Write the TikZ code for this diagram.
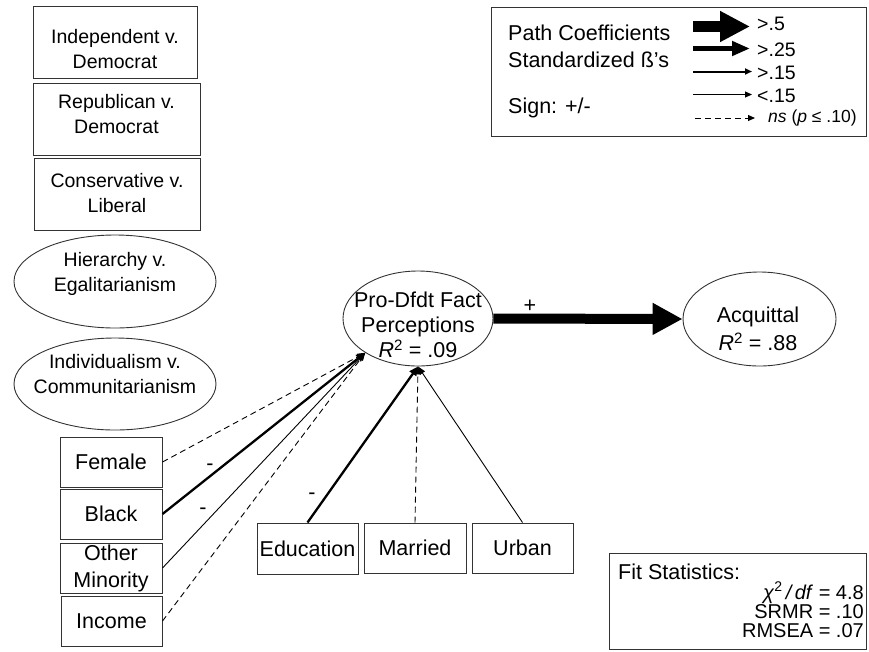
\documentclass[tikz,border=0pt]{standalone}
\usepackage{fontspec}
\setmainfont{Liberation Sans}
\usetikzlibrary{shapes.geometric,arrows.meta}
\begin{document}
\begin{tikzpicture}[x=1pt,y=-1pt,
  frame/.style={draw=black!80, line width=1pt, rectangle, inner sep=0pt},
  oval/.style={draw=black!80, line width=0.9pt, ellipse, inner sep=0pt},
  bigtxt/.style={inner sep=0pt, align=center, font=\fontsize{21.5}{26}\selectfont},
  smalltxt/.style={inner sep=0pt, align=center, font=\fontsize{19.5}{25}\selectfont},
  valtxt/.style={inner sep=0pt, font=\fontsize{19.5}{21}\selectfont},
  fittxt/.style={inner sep=0pt, anchor=east, text height=14pt, text depth=1pt, font=\fontsize{20}{22}\selectfont},
  thinarr/.style={line width=0.9pt, -{Triangle[length=8pt,width=6pt]}},
  thickarr/.style={line width=2.3pt, -{Triangle[length=9pt,width=8pt]}},
  dasharr/.style={line width=0.9pt, dash pattern=on 6pt off 4pt, -{Triangle[length=8pt,width=6pt]}},
]
\useasboundingbox (0,0) rectangle (869,651);

% ---- top-left boxes
\node[frame, minimum width=164pt, minimum height=72pt] (ind) at (115,42) {};
\node[smalltxt] (indt) at (115,49) {Independent v.\\Democrat};
\node[frame, minimum width=167pt, minimum height=72pt] (rep) at (116.5,119) {};
\node[smalltxt] (rept) at (116.5,114) {Republican v.\\Democrat};
\node[frame, minimum width=166pt, minimum height=72pt] (con) at (117,194) {};
\node[smalltxt] (cont) at (117,193) {Conservative v.\\Liberal};
\node[oval, minimum width=202pt, minimum height=93pt] (hier) at (115,281.5) {};
\node[smalltxt] (hiert) at (115,274) {Hierarchy v.\\Egalitarianism};
\node[oval, minimum width=202pt, minimum height=92pt] (indiv) at (115,384) {};
\node[smalltxt] (indivt) at (115,374) {Individualism v.\\Communitarianism};

% ---- demographic boxes
\node[frame, bigtxt, minimum width=102pt, minimum height=50pt] (fem) at (111,462) {Female};
\node[frame, bigtxt, minimum width=102pt, minimum height=50pt] (blk) at (111,514) {Black};
\node[frame, bigtxt, minimum width=102pt, minimum height=50pt, font=\fontsize{21.5}{27}\selectfont] (om) at (111,568) {Other\\Minority};
\node[frame, bigtxt, minimum width=101pt, minimum height=50pt] (inc) at (111.5,621) {Income};
\node[frame, bigtxt, minimum width=101pt, minimum height=51pt] (edu) at (307.5,548.5) {Education};
\node[frame, bigtxt, minimum width=102pt, minimum height=50pt] (mar) at (415,548) {Married};
\node[frame, bigtxt, minimum width=101pt, minimum height=50pt] (urb) at (522.5,548) {Urban};

% ---- central constructs
\node[oval, minimum width=150pt, minimum height=95pt] (pro) at (418,318.5) {};
\node[bigtxt, font=\fontsize{21.5}{25}\selectfont] (prot) at (418,325) {Pro-Dfdt Fact\\Perceptions\\\textit{R}\textsuperscript{2} = .09};
\node[oval, minimum width=153pt, minimum height=94pt] (acq) at (759.5,319) {};
\node[bigtxt, font=\fontsize{21.5}{28}\selectfont] (acqt) at (758,329) {Acquittal\\\textit{R}\textsuperscript{2} = .88};

% ---- paths
\draw[dasharr] (fem.east) -- (pro.213);
\draw[thickarr] (blk.east) -- (pro.213);
\draw[thinarr] (om.east) -- (pro.213);
\draw[dasharr] (inc.east) -- (pro.213);
\draw[thickarr] (edu.north) -- (pro.south);
\draw[dasharr] (mar.north) -- (pro.south);
\draw[thinarr] (urb.north) -- (pro.south);
\draw[line width=10pt, -{Triangle[length=30pt,width=30pt]}] (pro.east) -- (acq.west);

% ---- sign labels
\node[bigtxt] (plus) at (530,306) {+};
\node[bigtxt] (mblk) at (210,467) {-};
\node[bigtxt] (mom) at (203,511) {-};
\node[bigtxt] (medu) at (312,496) {-};

% ---- legend
\node[frame, minimum width=375pt, minimum height=129pt] (legend) at (678.5,71.5) {};
\node[bigtxt, anchor=west] (lg1) at (508,33) {Path Coefficients};
\node[bigtxt, anchor=west] (lg2) at (508,60) {Standardized ß’s};
\node[bigtxt, anchor=west] (lg3) at (508,108) {Sign: +/-};
\coordinate (a1s) at (693,26.5); \coordinate (a1e) at (750,26.5);
\coordinate (a2s) at (693,48.5); \coordinate (a2e) at (750,48.5);
\coordinate (a3s) at (693,71.5); \coordinate (a3e) at (752,71.5);
\coordinate (a4s) at (693,94.5); \coordinate (a4e) at (752,94.5);
\coordinate (a5s) at (695,118); \coordinate (a5e) at (755,118);
\draw[line width=11pt, -{Triangle[length=30pt,width=29pt]}] (a1s) -- (a1e);
\draw[line width=5pt, -{Triangle[length=18pt,width=14pt]}] (a2s) -- (a2e);
\draw[line width=2pt, -{Triangle[length=7pt,width=6pt]}] (a3s) -- (a3e);
\draw[line width=1pt, -{Triangle[length=7pt,width=6pt]}] (a4s) -- (a4e);
\draw[line width=1pt, dash pattern=on 6pt off 4pt, -{Triangle[length=7pt,width=6pt]}] (a5s) -- (a5e);
\node[valtxt, anchor=west] (v1) at (757,24) {>.5};
\node[valtxt, anchor=west] (v2) at (757,50) {>.25};
\node[valtxt, anchor=west] (v3) at (757,73) {>.15};
\node[valtxt, anchor=west] (v4) at (757,96) {<.15};
\node[valtxt, anchor=west, font=\fontsize{17.5}{19}\selectfont] (v5) at (768,118) {\textit{ns} (\textit{p} ≤ .10)};

% ---- fit statistics
\node[frame, minimum width=257pt, minimum height=96pt] (fit) at (737.5,601) {};
\node[bigtxt, anchor=west] (f0) at (618,572) {Fit Statistics:};
\node[fittxt] (f1) at (864,593) {\textit{χ}\textsuperscript{2}\,\textit{/\,df} = 4.8};
\node[fittxt] (f2) at (864,612) {SRMR = .10};
\node[fittxt] (f3) at (864,631) {RMSEA = .07};
\end{tikzpicture}
\end{document}
